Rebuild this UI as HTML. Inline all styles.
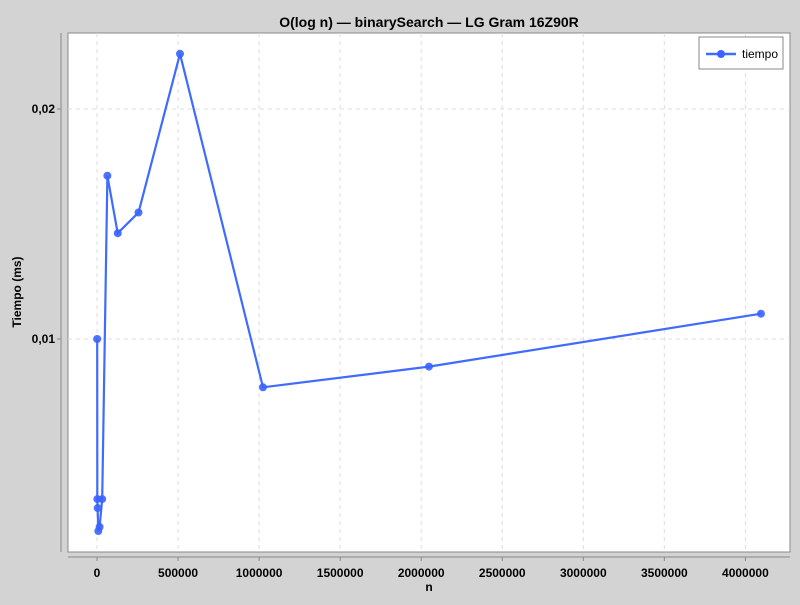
<!DOCTYPE html>
<html><head><meta charset="utf-8"><style>
body{margin:0;background:#d3d3d3;font-family:"Liberation Sans",sans-serif}
svg text{font-family:"Liberation Sans",sans-serif}
</style></head><body>
<svg id="c" width="800" height="600">
<rect x="0" y="0" width="800" height="600" fill="#d3d3d3"/>
<text x="429" y="27" text-anchor="middle" font-weight="bold" font-size="14">O(log n) — binarySearch — LG Gram 16Z90R</text>
<rect x="68" y="33" width="722" height="519" fill="#fff" stroke="#888"/>
<line x1="61" y1="33" x2="61" y2="552" stroke="#888"/>
<line x1="68" y1="557" x2="790" y2="557" stroke="#888"/>
<g id="grid"></g><g id="ticks"></g><g id="series"></g>
<text x="21" y="292" transform="rotate(-90 21 292)" text-anchor="middle" font-weight="bold" font-size="12">Tiempo (ms)</text>
<text x="429" y="591" text-anchor="middle" font-weight="bold" font-size="12">n</text>
<g>
<rect x="699" y="37" width="84" height="32" fill="#fff" stroke="#888"/>
<line x1="706" y1="54" x2="736" y2="54" stroke="#3f6bff" stroke-width="2.5"/>
<circle cx="721" cy="54" r="4" fill="#3a63ff"/>
<text x="742" y="58" font-size="12">tiempo</text>
</g>
</svg>
<script>
const nValues=[1000,2000,4000,8000,16000,32000,64000,128000,256000,512000,1024000,2048000,4096000];
const times=[0.01,0.00304,0.00265,0.00165,0.00183,0.00304,0.0171,0.0146,0.0155,0.0224,0.0079,0.0088,0.0111];
const xTicks=[0,500000,1000000,1500000,2000000,2500000,3000000,3500000,4000000];
const yTicks=[0.01,0.02];
const yTickLabels=["0,01","0,02"];
const NS="http://www.w3.org/2000/svg";
function X(v){return 97+v*0.0001621;}
function Y(v){return 339-(v-0.01)*23000;}
function mk(t,a,p){const e=document.createElementNS(NS,t);for(const k in a)e.setAttribute(k,a[k]);p.appendChild(e);return e;}
const g=document.getElementById('grid'),tk=document.getElementById('ticks'),s=document.getElementById('series');
xTicks.forEach(v=>{const x=X(v);
const l=mk('line',{x1:x,y1:33,x2:x,y2:552,stroke:'#ddd','stroke-dasharray':'4 4'},g);


mk('line',{x1:x,y1:557,x2:x,y2:561,stroke:'#888'},tk);
const t=mk('text',{x:x,y:577,'text-anchor':'middle','font-size':'12','font-weight':'bold'},tk);t.textContent=v;

});
yTicks.forEach((v,i)=>{const y=Y(v);
const l=mk('line',{x1:68,y1:y,x2:790,y2:y,stroke:'#ddd','stroke-dasharray':'4 4'},g);


mk('line',{x1:57,y1:y,x2:61,y2:y,stroke:'#888'},tk);
const t=mk('text',{x:55,y:y+4,'text-anchor':'end','font-size':'12','font-weight':'bold'},tk);t.textContent=yTickLabels[i];

});
const pts=nValues.map((n,i)=>X(n).toFixed(1)+','+Y(times[i]).toFixed(1)).join(' ');
const pl=mk('polyline',{points:pts,fill:'none',stroke:'#3f6bff','stroke-width':'2.2'},s);


nValues.forEach((n,i)=>{const c=mk('circle',{cx:X(n),cy:Y(times[i]),r:4,fill:'#3a63ff','fill-opacity':'0.9'},s);

});
</script>
</body></html>
